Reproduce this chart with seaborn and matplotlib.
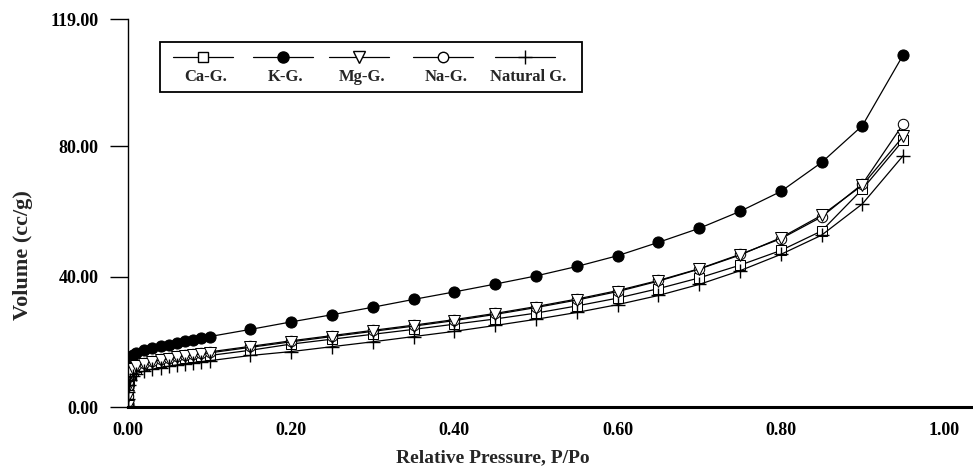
import numpy as np
import pandas as pd
import matplotlib
matplotlib.use("Agg")
import matplotlib.pyplot as plt
from matplotlib.lines import Line2D
from matplotlib.patches import Rectangle
import seaborn as sns

# Relative pressure steps of the adsorption branch
pressure = [0.0, 0.0002, 0.0006, 0.0015, 0.003, 0.006,
            0.01, 0.02, 0.03, 0.04, 0.05, 0.06, 0.07, 0.08, 0.09, 0.10,
            0.15, 0.20, 0.25, 0.30, 0.35, 0.40, 0.45, 0.50, 0.55, 0.60,
            0.65, 0.70, 0.75, 0.80, 0.85, 0.90, 0.95]

# Adsorbed volume (cc/g) for each sample
ca_g = [0.3, 3.0, 5.5, 8.0, 9.8, 11.0,
        11.8, 12.6, 13.2, 13.7, 14.1, 14.5, 14.9, 15.2, 15.5, 15.8,
        17.4, 19.3, 20.8, 22.3, 23.8, 25.4, 27.0, 28.8, 31.0, 33.4,
        36.3, 39.6, 43.5, 48.0, 54.0, 66.8, 81.8]
k_g = [0.8, 6.0, 10.5, 13.5, 15.2, 16.0,
       16.6, 17.4, 18.0, 18.6, 19.1, 19.6, 20.1, 20.6, 21.1, 21.6,
       23.8, 26.1, 28.3, 30.6, 33.0, 35.3, 37.7, 40.2, 43.1, 46.4,
       50.5, 54.8, 60.0, 66.1, 75.0, 86.3, 108.0]
mg_g = [0.4, 3.3, 6.0, 8.7, 10.5, 11.7,
        12.5, 13.3, 13.9, 14.4, 14.8, 15.2, 15.6, 16.0, 16.3, 16.6,
        18.3, 20.0, 21.6, 23.2, 24.8, 26.5, 28.4, 30.5, 32.8, 35.4,
        38.6, 42.3, 46.6, 51.9, 58.8, 68.0, 83.0]
na_g = [0.4, 3.5, 6.3, 9.0, 10.8, 12.0,
        12.8, 13.6, 14.2, 14.7, 15.1, 15.5, 15.9, 16.3, 16.6, 16.9,
        18.6, 20.3, 21.9, 23.5, 25.1, 26.8, 28.7, 30.8, 33.1, 35.7,
        38.8, 42.4, 46.8, 51.6, 58.3, 68.4, 86.8]
natural_g = [0.2, 2.5, 4.6, 6.8, 8.4, 9.5,
             10.2, 11.0, 11.6, 12.1, 12.5, 12.9, 13.3, 13.6, 13.9, 14.2,
             15.8, 17.0, 18.5, 20.0, 21.6, 23.2, 25.0, 26.9, 29.0, 31.4,
             34.2, 37.6, 41.8, 46.8, 52.7, 62.3, 77.1]

labels = ["Ca-G.", "K-G.", "Mg-G.", "Na-G.", "Natural G."]
series = [ca_g, k_g, mg_g, na_g, natural_g]
y_ticks = [0.0, 40.0, 80.0, 119.0]
x_ticks = [0.0, 0.2, 0.4, 0.6, 0.8, 1.0]

# marker, size, face colour per sample
styles = {
    "Ca-G.": dict(marker="s", markersize=7, markerfacecolor="white"),
    "K-G.": dict(marker="o", markersize=8, markerfacecolor="black"),
    "Mg-G.": dict(marker="v", markersize=8, markerfacecolor="white"),
    "Na-G.": dict(marker="o", markersize=7.5, markerfacecolor="white"),
    "Natural G.": dict(marker="+", markersize=10, markeredgewidth=1.0),
}
# drawing order (triangles kept on top of the open circles)
draw_order = ["Ca-G.", "K-G.", "Na-G.", "Mg-G.", "Natural G."]

df = pd.DataFrame({
    "P": np.tile(pressure, len(labels)),
    "V": np.concatenate([np.asarray(s, float) for s in series]),
    "sample": np.repeat(labels, len(pressure)),
})

sns.set_style("ticks")
serif = ["Liberation Serif", "DejaVu Serif"]
plt.rcParams["font.family"] = serif
plt.rcParams["font.weight"] = "bold"

fig = plt.figure(figsize=(9.73, 4.68), dpi=100)
W, H = 973.0, 468.0
ax = fig.add_axes([128 / W, 61 / H, 844 / W, 388 / H])

for name in draw_order:
    sub = df[df["sample"] == name]
    sns.lineplot(data=sub, x="P", y="V", ax=ax, color="black", lw=0.9,
                 sort=False, markeredgecolor="black", estimator=None,
                 **styles[name])

ax.set_xlim(0, 844 / 816)
ax.set_ylim(0, 119)
ax.set_xticks(x_ticks)
ax.set_yticks(y_ticks)
ax.set_xticklabels([f"{v:.2f}" for v in x_ticks])
ax.set_yticklabels([f"{v:.2f}" for v in y_ticks])

for s in ["top", "right"]:
    ax.spines[s].set_visible(False)
ax.spines["left"].set_linewidth(1.0)
ax.spines["bottom"].set_linewidth(2.2)
ax.spines["left"].set_color("black")
ax.spines["bottom"].set_color("black")

ax.tick_params(axis="y", direction="out", length=13, width=1.0, pad=8,
               labelsize=13, colors="black")
ax.tick_params(axis="x", direction="out", length=1.5, width=1.5, pad=9,
               labelsize=13, colors="black")
for t in ax.get_xticklabels() + ax.get_yticklabels():
    t.set_fontweight("bold")

ax.set_xlabel("Relative Pressure, P/Po", fontsize=14, fontweight="bold")
ax.set_ylabel("Volume (cc/g)", fontsize=16, fontweight="bold")
ax.xaxis.set_label_coords((493 - 128) / 844, -(449 - 407) / 388)
ax.yaxis.set_label_coords(-(128 - 33) / 844, (407 - 255) / 388)

# Legend: each handle drawn above its label inside a framed box
def fx(px):
    return px / W

def fy(py):
    return 1 - py / H

fig.patches.append(Rectangle((fx(160), fy(92)), fx(582) - fx(160), fy(42) - fy(92),
                             transform=fig.transFigure, fill=False,
                             edgecolor="black", lw=1.3))
centers = [203, 283, 359, 443, 525]
for name, cx in zip(labels, centers):
    st = dict(styles[name])
    fig.lines.append(Line2D([fx(cx - 30), fx(cx + 30)], [fy(57), fy(57)],
                            transform=fig.transFigure, color="black", lw=0.9))
    fig.lines.append(Line2D([fx(cx)], [fy(57)], transform=fig.transFigure,
                            color="black", markeredgecolor="black", lw=0, **st))
    fig.text(fx(cx + 3), fy(77), name, ha="center", va="center",
             fontsize=12, fontweight="bold", family=serif)

fig.savefig("out.png", dpi=100, facecolor="white")
